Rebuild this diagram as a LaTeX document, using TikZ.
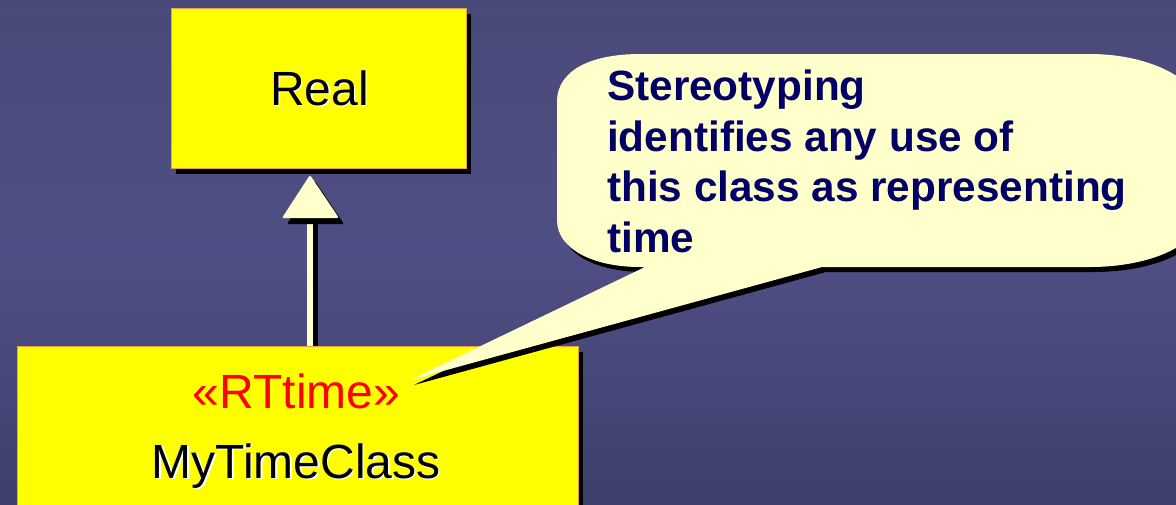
\documentclass[tikz,border=0pt]{standalone}
\usepackage{fontspec}
\setmainfont{Liberation Sans}
\usetikzlibrary{calc,shadows}
\definecolor{bgtop}{HTML}{494979}
\definecolor{bgmid}{HTML}{4F4F85}
\definecolor{bgbot}{HTML}{3F3F6D}
\definecolor{classfill}{HTML}{FFFF00}
\definecolor{classedge}{HTML}{E8A040}
\definecolor{notefill}{HTML}{FFFFCC}
\definecolor{notetext}{HTML}{000066}
\definecolor{stereo}{HTML}{FF0000}

% outline of the speech bubble, offset by (#1,#2)
\newcommand\notepath[2]{%
  (557+#1,102+#2) .. controls (557+#1,68+#2) and (595+#1,54+#2) .. (640+#1,54+#2)
  -- (1090+#1,54+#2)
  .. controls (1150+#1,54+#2) and (1200+#1,80+#2) .. (1200+#1,110+#2)
  -- (1200+#1,215+#2)
  .. controls (1200+#1,245+#2) and (1150+#1,267+#2) .. (1090+#1,267+#2)
  -- (822+#1,267+#2) -- (410+#1,380+#2) -- (645+#1,267+#2) -- (640+#1,267+#2)
  .. controls (595+#1,267+#2) and (557+#1,250+#2) .. (557+#1,220+#2) -- cycle}

\begin{document}
\begin{tikzpicture}[x=1pt,y=-1pt,
  classbox/.style={draw=classedge, line width=0.8pt, fill=classfill, inner sep=0pt,
    drop shadow={shadow xshift=5pt, shadow yshift=-6pt, fill=black, opacity=1}},
  bigtext/.style={font=\fontsize{48}{56}\selectfont, inner sep=0pt, anchor=base},
  glow/.style={bigtext, text=white},
  notefont/.style={font=\fontsize{42.3}{50.5}\selectfont\bfseries, text=notetext,
    align=left, anchor=base west, inner sep=0pt},
]
\useasboundingbox (0,0) rectangle (1176,504);
\clip (0,0) rectangle (1176,504);
\shade[top color=bgtop, bottom color=bgbot, middle color=bgmid] (0,0) rectangle (1176,504);

% class boxes
\node[classbox, minimum width=295pt, minimum height=160pt] (real) at (318.5,88) {};
\node[classbox, minimum width=561pt, minimum height=200pt] (mt) at (297.5,446) {};

% class names
\node[glow] (realshade) at (321,106.5) {Real};
\node[bigtext] (realtxt) at (319.5,105) {Real};
\node[bigtext, text=stereo] (stereotxt) at (296.5,408) {«RTtime»};
\node[glow] (mtshade) at (297.5,479.5) {MyTimeClass};
\node[bigtext] (mttxt) at (296,478) {MyTimeClass};

% generalization arrow
\coordinate (gtip) at (310,175);
\coordinate (gbase) at (310,218);
\coordinate (gfoot) at (gtip |- mt.north);
\draw[black, line width=6pt] ($(gbase)+(4.5,5)$) -- ($(gfoot)+(4.5,0)$);
\draw[notefill, line width=6pt] (gbase) -- (gfoot);
\fill[black, rounded corners=2pt] ($(gtip)+(5,6)$) -- ($(gtip)+(34,49)$) -- ($(gtip)+(-23,49)$) -- cycle;
\fill[notefill, rounded corners=2pt] (gtip) -- ($(gtip)+(29,43)$) -- ($(gtip)+(-28,43)$) -- cycle;

% note bubble (the text node is anchored at the baseline of its last line)
\fill[black] \notepath{4}{5};
\fill[notefill] \notepath{0}{0};
\node[notefont] (note) at (607,252) {Stereotyping\\identifies any use of\\this class as representing\\time};
\end{tikzpicture}
\end{document}
